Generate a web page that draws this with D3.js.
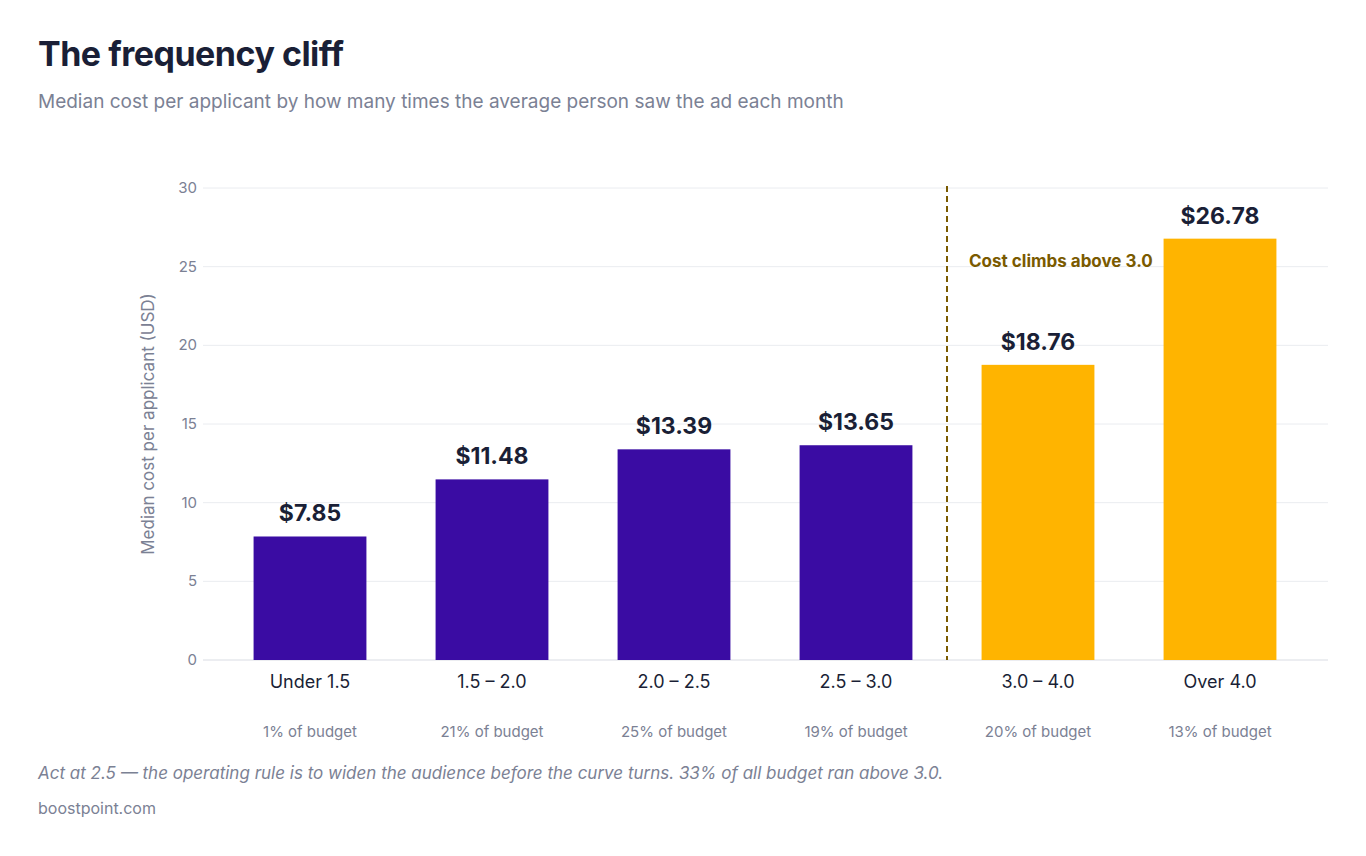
<!DOCTYPE html>
<html><head><meta charset="utf-8">
<script src="https://cdn.jsdelivr.net/npm/d3@7"></script>
<style>body{margin:0;background:#fff;font-family:Poppins,Inter,"Noto Sans",sans-serif;}</style>
</head><body>
<svg id="c" width="1366" height="856"></svg>
<script>
const categories = ["Under 1.5","1.5 – 2.0","2.0 – 2.5","2.5 – 3.0","3.0 – 4.0","Over 4.0"];
const values = [7.85,11.48,13.39,13.65,18.76,26.78];
const budgetShares = ["1% of budget","21% of budget","25% of budget","19% of budget","20% of budget","13% of budget"];
const highFreq = [false,false,false,false,true,true];
const yTicks = [0,5,10,15,20,25,30];

const svg = d3.select("#c");
const font = "Inter, 'Noto Sans', sans-serif";
const x = d3.scaleBand().domain(categories).range([219,1311]).paddingInner(0.38).paddingOuter(0.19);
const y = d3.scaleLinear().domain([0,30]).range([660,188]);

svg.append("text").attr("x",38).attr("y",66).attr("font-family",font).attr("font-weight",700)
  .attr("font-size",34).attr("fill","#1a1f36").attr("letter-spacing","-0.5").text("The frequency cliff");
svg.append("text").attr("x",38).attr("y",108).attr("font-family",font).attr("font-size",19)
  .attr("fill","#7b8194").text("Median cost per applicant by how many times the average person saw the ad each month");

// grid
svg.append("g").selectAll("line").data(yTicks).join("line")
  .attr("x1",203).attr("x2",1328).attr("y1",d=>y(d)).attr("y2",d=>y(d))
  .attr("stroke",d=>d===0?"#d9dce3":"#eaecf0").attr("stroke-width",1);
svg.append("g").selectAll("text").data(yTicks).join("text")
  .attr("x",197).attr("y",d=>y(d)+5).attr("text-anchor","end").attr("font-family",font)
  .attr("font-size",15).attr("fill","#7b8194").text(d=>d);
svg.append("text").attr("transform","translate(154,424) rotate(-90)").attr("text-anchor","middle")
  .attr("font-family",font).attr("font-size",17).attr("fill","#7b8194").text("Median cost per applicant (USD)");

// bars
svg.append("g").selectAll("rect").data(categories).join("rect")
  .attr("x",d=>x(d)).attr("width",x.bandwidth())
  .attr("y",(d,i)=>y(values[i])).attr("height",(d,i)=>y(0)-y(values[i]))
  .attr("fill",(d,i)=>highFreq[i]?"#ffb400":"#3a0ca3");
svg.append("g").selectAll("text").data(categories).join("text")
  .attr("x",d=>x(d)+x.bandwidth()/2).attr("y",(d,i)=>y(values[i])-15).attr("text-anchor","middle")
  .attr("font-family",font).attr("font-weight",700).attr("font-size",23).attr("fill","#1a1f36")
  .text((d,i)=>"$"+values[i].toFixed(2));

// category labels
svg.append("g").selectAll("text").data(categories).join("text")
  .attr("x",d=>x(d)+x.bandwidth()/2).attr("y",688).attr("text-anchor","middle")
  .attr("font-family",font).attr("font-size",18).attr("fill","#1a1f36").text(d=>d);
svg.append("g").selectAll("text").data(categories).join("text")
  .attr("x",d=>x(d)+x.bandwidth()/2).attr("y",737).attr("text-anchor","middle")
  .attr("font-family",font).attr("font-size",15).attr("fill","#7b8194").text((d,i)=>budgetShares[i]);

// threshold
const tx = (x(categories[3])+x.bandwidth()+x(categories[4]))/2;
svg.append("line").attr("x1",tx).attr("x2",tx).attr("y1",y(30)-2).attr("y2",y(0))
  .attr("stroke","#7a5a00").attr("stroke-width",2).attr("stroke-dasharray","6,4");
svg.append("text").attr("x",tx+22).attr("y",y(25.3)+5).attr("font-family",font).attr("font-weight",700)
  .attr("font-size",17).attr("fill","#7a5a00").text("Cost climbs above 3.0");

svg.append("text").attr("x",38).attr("y",779).attr("font-family",font).attr("font-style","italic")
  .attr("font-size",17).attr("fill","#7b8194")
  .text("Act at 2.5 — the operating rule is to widen the audience before the curve turns. 33% of all budget ran above 3.0.");
svg.append("text").attr("x",38).attr("y",814).attr("font-family",font).attr("font-size",16)
  .attr("fill","#7b8194").text("boostpoint.com");
</script>
</body></html>
